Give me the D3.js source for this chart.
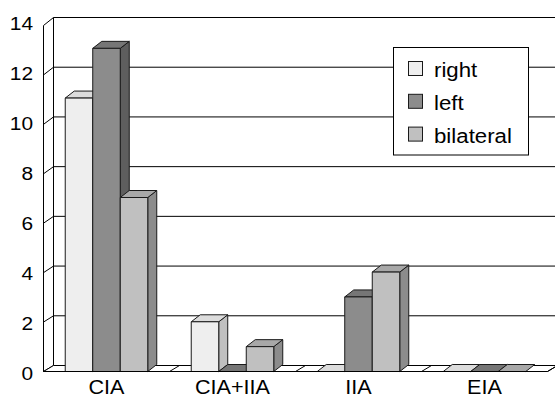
<!DOCTYPE html>
<html>
<head>
<meta charset="utf-8">
<script src="https://cdn.jsdelivr.net/npm/d3@7"></script>
<style>
  html, body { margin: 0; padding: 0; background: #fff; }
  svg { display: block; }
  text { font-family: "Liberation Sans", Arial, sans-serif; fill: #000; }
</style>
</head>
<body>
<svg id="chart" width="555" height="399"></svg>
<script>
// Cases by site and side
const categories = ["CIA", "CIA+IIA", "IIA", "EIA"];
const seriesNames = ["right", "left", "bilateral"];
const rightValues = [11, 2, 0, 0];
const leftValues = [13, 0, 3, 0];
const bilateralValues = [7, 1, 4, 0];
const yTicks = [0, 2, 4, 6, 8, 10, 12, 14];

const seriesValues = { right: rightValues, left: leftValues, bilateral: bilateralValues };

// shading of the three faces of each box
const shades = {
  right:     { front: "#eeeeee", top: "#dcdcdc", side: "#c0c0c0" },
  left:      { front: "#8c8c8c", top: "#767676", side: "#5e5e5e" },
  bilateral: { front: "#c0c0c0", top: "#a8a8a8", side: "#8c8c8c" }
};

const svg = d3.select("#chart");

// projection of the box: front plane and back wall
const frontLeft = 43.5, frontRight = 547.5;
const wallDX = 10;              // horizontal depth of the floor/walls
const barDX = 9, barDY = -7;    // depth of each bar

const x0 = d3.scaleBand().domain(categories)
  .range([frontLeft, frontRight]).paddingInner(0.345).paddingOuter(0.1725);
const x1 = d3.scaleBand().domain(seriesNames).range([0, x0.bandwidth()]);

const yFront = d3.scaleLinear().domain([0, 14]).range([371.5, 25.5]);
const yBack  = d3.scaleLinear().domain([0, 14]).range([365.5, 17.5]);
const yBar   = d3.scaleLinear().domain([0, 14]).range([371.5, 23.5]);
const yLabel = d3.scaleLinear().domain([0, 14]).range([380, 30]);

const backLeft = frontLeft + wallDX, backRight = frontRight + wallDX;
const line = d3.line();

// back wall with gridlines
const wall = svg.append("g");
wall.append("line")
  .attr("x1", backLeft).attr("x2", backLeft)
  .attr("y1", yBack(14)).attr("y2", yBack(0))
  .attr("stroke", "#000");
wall.selectAll(".grid").data(yTicks).join("line")
  .attr("class", "grid")
  .attr("x1", backLeft).attr("x2", backRight + 2)
  .attr("y1", d => yBack(d)).attr("y2", d => yBack(d))
  .attr("stroke", "#000").attr("stroke-width", 1);
// side-wall lines linking axis to the back wall
wall.selectAll(".sidegrid").data(yTicks).join("path")
  .attr("class", "sidegrid")
  .attr("d", d => line([[frontLeft, yFront(d)], [backLeft, yBack(d)]]))
  .attr("stroke", "#000").attr("fill", "none");

// floor
svg.append("path")
  .attr("d", line([[frontLeft, yFront(0)], [frontRight, yFront(0)],
                   [backRight, yBack(0)], [backLeft, yBack(0)]]) + "Z")
  .attr("fill", "#fff").attr("stroke", "#000");

// category separators on the floor
const bounds = d3.range(1, categories.length + 1).map(i => frontLeft + i * x0.step());
svg.selectAll(".sep").data(bounds).join("path")
  .attr("class", "sep")
  .attr("d", d => line([[d, yFront(0)], [d + wallDX, yBack(0)]]))
  .attr("stroke", "#000").attr("fill", "none");

// bars
const barData = [];
categories.forEach((c, ci) => {
  seriesNames.forEach(s => {
    barData.push({ cat: c, series: s, value: seriesValues[s][ci] });
  });
});

const bars = svg.append("g").attr("stroke", "#1a1a1a").attr("stroke-width", 1)
  .attr("stroke-linejoin", "round");
barData.forEach(d => {
  const x = x0(d.cat) + x1(d.series);
  const w = x1.bandwidth();
  const yt = yBar(d.value), yb = yBar(0);
  const c = shades[d.series];
  const g = bars.append("g");
  if (d.value > 0) {
    g.append("path")
      .attr("d", line([[x + w, yt], [x + w + barDX, yt + barDY],
                       [x + w + barDX, yb + barDY], [x + w, yb]]) + "Z")
      .attr("fill", c.side);
  }
  g.append("path")
    .attr("d", line([[x, yt], [x + w, yt], [x + w + barDX, yt + barDY],
                     [x + barDX, yt + barDY]]) + "Z")
    .attr("fill", c.top);
  if (d.value > 0) {
    g.append("rect")
      .attr("x", x).attr("y", yt).attr("width", w).attr("height", yb - yt)
      .attr("fill", c.front);
  }
});

// front value axis
svg.append("line")
  .attr("x1", frontLeft).attr("x2", frontLeft)
  .attr("y1", yFront(14)).attr("y2", yFront(0))
  .attr("stroke", "#000");
svg.append("line")
  .attr("x1", frontLeft).attr("x2", frontRight)
  .attr("y1", yFront(0)).attr("y2", yFront(0))
  .attr("stroke", "#000");

// value labels
svg.append("g").selectAll("text").data(yTicks).join("text")
  .attr("transform", d => `translate(33,${yLabel(d)}) scale(1.13,1)`)
  .attr("text-anchor", "end")
  .attr("font-size", 18.5)
  .text(d => d);

// category labels
svg.append("g").selectAll("text").data(categories).join("text")
  .attr("transform", d => `translate(${x0(d) + x0.bandwidth() / 2},394) scale(1.08,1)`)
  .attr("text-anchor", "middle")
  .attr("font-size", 20)
  .text(d => d);

// legend
const legend = svg.append("g");
legend.append("rect")
  .attr("x", 393.5).attr("y", 47.5).attr("width", 135).attr("height", 107.5)
  .attr("fill", "#fff").attr("stroke", "#000");
const items = legend.selectAll(".item").data(seriesNames).join("g")
  .attr("class", "item")
  .attr("transform", (d, i) => `translate(0,${i * 32.8})`);
items.append("rect")
  .attr("x", 408.5).attr("y", 61.5).attr("width", 14).attr("height", 14)
  .attr("fill", d => shades[d].front).attr("stroke", "#1a1a1a");
items.append("text")
  .attr("transform", "translate(434,77) scale(1.06,1)")
  .attr("font-size", 21)
  .text(d => d);
</script>
</body>
</html>
